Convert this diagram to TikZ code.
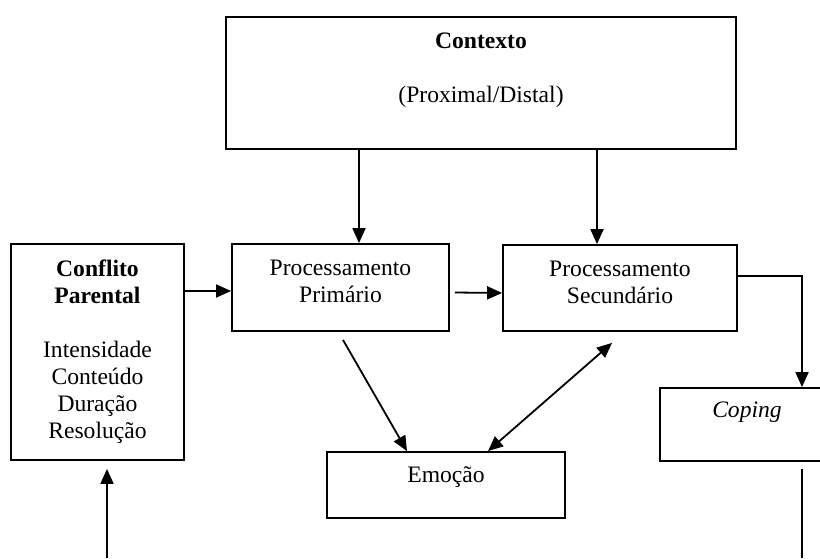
\documentclass[tikz,border=0pt]{standalone}
\usepackage{fontspec}
\setmainfont{Liberation Serif}
\usetikzlibrary{arrows.meta}
\begin{document}
\begin{tikzpicture}[x=0.5pt,y=-0.5pt,
  box/.style={draw, line width=0.9pt, inner sep=0pt},
  txt/.style={font=\fontsize{11.8}{13.5}\selectfont, align=center, anchor=base, inner sep=0pt},
  conn/.style={line width=0.9pt, -{Triangle[length=7.5pt,width=6.5pt]}},
  both/.style={line width=0.9pt, {Triangle[length=7.5pt,width=6.5pt]}-{Triangle[length=7.5pt,width=6.5pt]}},
  plain/.style={line width=0.9pt}]
\useasboundingbox (0,0) rectangle (820,558);
% boxes
\node[box, minimum width=255pt, minimum height=66pt] (ctx) at (481,83) {};
\node[box, minimum width=86.5pt, minimum height=108pt] (conf) at (97.5,352) {};
\node[box, minimum width=108.5pt, minimum height=43.5pt] (pp) at (340.5,287.5) {};
\node[box, minimum width=117pt, minimum height=43pt] (ps) at (620,288) {};
\node[box, minimum width=119pt, minimum height=33pt] (emo) at (446,485) {};
\node[box, minimum width=87pt, minimum height=36.5pt] (cop) at (747,424.5) {};
% texts (anchor base = baseline of the last line)
\node[txt] (ctxt) at (481,102) {\textbf{Contexto}\\[13.5pt](Proximal/Distal)};
\node[txt] (conft) at (97.5,438) {\textbf{Conflito}\\\textbf{Parental}\\[13.5pt]Intensidade\\Conteúdo\\Duração\\Resolução};
\node[txt] (ppt) at (340.5,302) {Processamento\\Primário};
\node[txt] (pst) at (620,303) {Processamento\\Secundário};
\node[txt] (emot) at (446,482) {Emoção};
\node[txt] (copt) at (747,417) {\textit{Coping}};
% free ends
\coordinate (bl) at (107,558);
\coordinate (br) at (802,558);
% connectors
\draw[conn] ([xshift=9.25pt]pp.north |- ctx.south) -- ([xshift=9.25pt]pp.north);
\draw[conn] ([xshift=-11.5pt]ps.north |- ctx.south) -- ([xshift=-11.5pt]ps.north);
\draw[conn] ([yshift=-1.75pt]pp.west -| conf.east) -- ([yshift=-1.75pt]pp.west);
\draw[conn] ([xshift=2.5pt,yshift=-2.5pt]pp.east) -- ([yshift=-2.5pt]ps.west);
\draw[conn] ([yshift=6pt]ps.east) -| ([xshift=27.5pt]cop.north);
\draw[conn] ([xshift=1.25pt,yshift=-4pt]pp.south) -- ([xshift=-19.5pt]emo.north);
\draw[both] ([xshift=21pt]emo.north) -- ([xshift=-4pt,yshift=-5.5pt]ps.south);
\draw[conn] (bl) -- ([xshift=4.75pt,yshift=-4pt]conf.south);
\draw[plain] ([xshift=27.5pt,yshift=-3.5pt]cop.south) -- (br);
\end{tikzpicture}
\end{document}
